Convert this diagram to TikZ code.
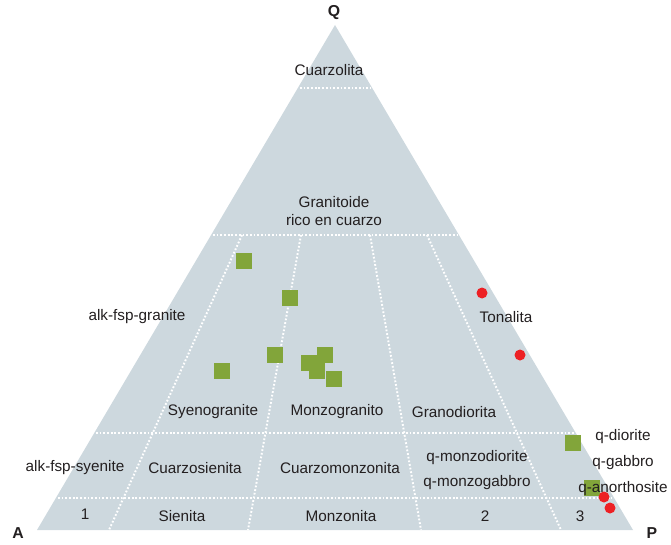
\documentclass[tikz,border=0pt]{standalone}
\usepackage{fontspec}
\setmainfont{Liberation Sans}

\definecolor{fieldgray}{RGB}{205,216,222}
\definecolor{samplegreen}{RGB}{130,165,58}
\definecolor{samplered}{RGB}{237,32,36}
\definecolor{labelgray}{RGB}{35,31,32}

\tikzset{
    fieldline/.style={white, line width=1.1pt, dash pattern=on 1pt off 1.1pt},
    fieldlabel/.style={text=labelgray, inner sep=0pt, font=\fontsize{8.7}{10}\selectfont},
    cornerlabel/.style={text=labelgray, inner sep=0pt, font=\fontsize{9}{10}\selectfont\bfseries},
    greensample/.style={fill=samplegreen, minimum size=0.32cm, inner sep=0pt},
    redsample/.style={circle, fill=samplered, minimum size=0.22cm, inner sep=0pt}
}

\begin{document}
\begin{tikzpicture}[x=0.02cm, y=-0.02cm]
    \useasboundingbox (0,0) rectangle (671,544);

    \coordinate (A) at (37,530);
    \coordinate (P) at (633,530);
    \coordinate (Q) at (335,25);

    \fill[fieldgray] (A) -- (P) -- (Q) -- cycle;

    % horizontal limits
    \draw[fieldline] (300,88) -- (371,88)
    (213,235) -- (458,235)
    (96,433) -- (575,433)
    (58,498) -- (612,498);

    % field borders towards Q
    \draw[fieldline] (242,235) -- (109,530)
    (301,235) -- (248,530)
    (370,235) -- (421,530)
    (427,235) -- (561,530);

    % samples
    \node[greensample] (s1) at (244,261) {};
    \node[greensample] (s2) at (290,298) {};
    \node[greensample] (s3) at (222,371) {};
    \node[greensample] (s4) at (275,355) {};
    \node[greensample] (s5) at (309,363) {};
    \node[greensample] (s6) at (325,355) {};
    \node[greensample] (s7) at (317,371) {};
    \node[greensample] (s8) at (334,379) {};
    \node[greensample] (s9) at (573,443) {};
    \node[greensample] (s10) at (592,488) {};

    \node[cornerlabel] (lq) at (334,13) {Q};
    \node[cornerlabel] (la) at (18,533) {A};
    \node[cornerlabel] (lp) at (652,533) {P};

    \node[fieldlabel] (cuarzolita) at (329,70) {Cuarzolita};
    \node[fieldlabel] (granitoide) at (334,202) {Granitoide};
    \node[fieldlabel] (rico) at (334,220) {rico en cuarzo};
    \node[fieldlabel] (afgranite) at (137,317) {alk-fsp-granite};
    \node[fieldlabel] (tonalita) at (506,317) {Tonalita};
    \node[fieldlabel] (syeno) at (213,412) {Syenogranite};
    \node[fieldlabel] (monzo) at (337,412) {Monzogranito};
    \node[fieldlabel] (grano) at (454,412) {Granodiorita};
    \node[fieldlabel] (afsyenite) at (75,468) {alk-fsp-syenite};
    \node[fieldlabel] (qsienita) at (195,468) {Cuarzosienita};
    \node[fieldlabel] (qmonzonita) at (340,468) {Cuarzomonzonita};
    \node[fieldlabel] (qmdiorite) at (477,458) {q-monzodiorite};
    \node[fieldlabel] (qmgabbro) at (477,483) {q-monzogabbro};
    \node[fieldlabel] (qdiorite) at (623,437) {q-diorite};
    \node[fieldlabel] (qgabbro) at (623,463) {q-gabbro};
    \node[fieldlabel] (qanorth) at (623,489) {q-anorthosite};
    \node[fieldlabel] (f1) at (85,514) {1};
    \node[fieldlabel] (sienita) at (182,516) {Sienita};
    \node[fieldlabel] (monzonita) at (341,516) {Monzonita};
    \node[fieldlabel] (f2) at (485,516) {2};
    \node[fieldlabel] (f3) at (580,516) {3};

    \node[redsample] (r1) at (482,293) {};
    \node[redsample] (r2) at (520,355) {};
    \node[redsample] (r3) at (604,497) {};
    \node[redsample] (r4) at (610,508) {};

\end{tikzpicture}
\end{document}
